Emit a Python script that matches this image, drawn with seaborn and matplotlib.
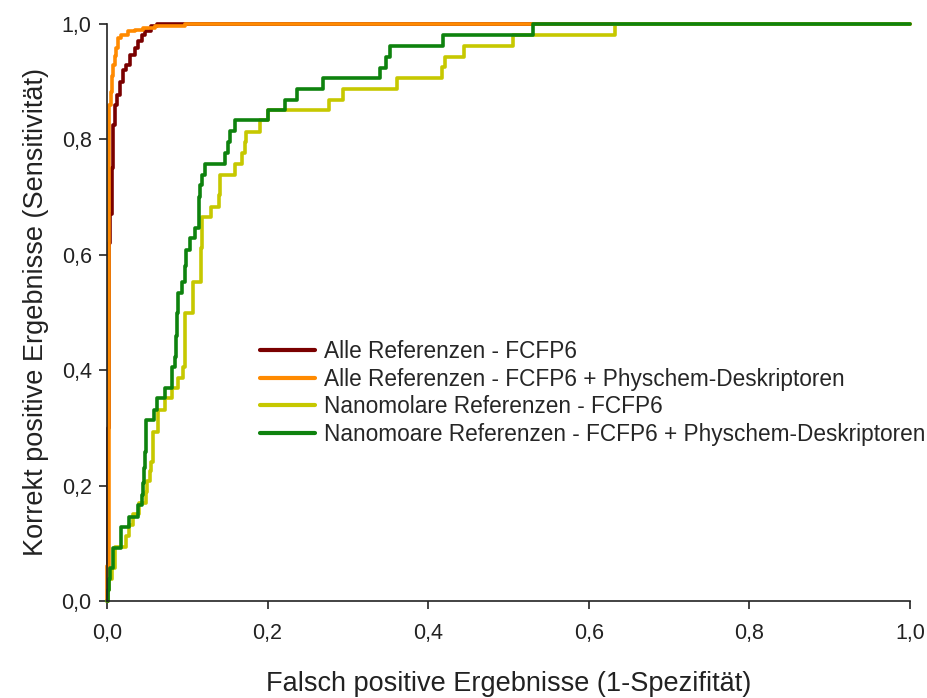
import matplotlib
matplotlib.use("Agg")
import matplotlib.pyplot as plt
import seaborn as sns
import pandas as pd

# ---- data (step vertices: x where a level starts, level) ----
red_x = [0.000, 0.001, 0.002, 0.003, 0.004, 0.006, 0.008, 0.010, 0.012, 0.016, 0.020,
         0.024, 0.029, 0.035, 0.039, 0.043, 0.047, 0.055, 0.062, 1.000]
red_y = [0.000, 0.300, 0.500, 0.620, 0.670, 0.750, 0.825, 0.860, 0.877, 0.900, 0.920,
         0.929, 0.946, 0.958, 0.970, 0.981, 0.988, 0.996, 1.000, 1.000]

orange_x = [0.000, 0.000, 0.002, 0.003, 0.005, 0.006, 0.008, 0.010, 0.011, 0.014, 0.018,
            0.026, 0.035, 0.045, 0.060, 0.097, 1.000]
orange_y = [0.000, 0.060, 0.820, 0.860, 0.883, 0.910, 0.929, 0.945, 0.958, 0.975, 0.981,
            0.988, 0.990, 0.993, 0.997, 1.000, 1.000]

yellow_x = [0.000, 0.001, 0.003, 0.006, 0.010, 0.024, 0.028, 0.033, 0.040, 0.049, 0.050,
            0.053, 0.055, 0.057, 0.064, 0.072, 0.081, 0.089, 0.095, 0.097, 0.107, 0.117,
            0.118, 0.130, 0.140, 0.141, 0.159, 0.168, 0.172, 0.173, 0.191, 0.201, 0.276,
            0.294, 0.361, 0.417, 0.421, 0.444, 0.506, 0.633, 1.000]
yellow_y = [0.000, 0.019, 0.038, 0.057, 0.094, 0.113, 0.132, 0.151, 0.170, 0.189, 0.208,
            0.226, 0.241, 0.293, 0.331, 0.351, 0.369, 0.386, 0.406, 0.499, 0.553, 0.611,
            0.666, 0.683, 0.704, 0.738, 0.758, 0.776, 0.796, 0.813, 0.834, 0.851, 0.868,
            0.887, 0.906, 0.925, 0.943, 0.962, 0.981, 1.000, 1.000]

green_x = [0.000, 0.001, 0.002, 0.004, 0.008, 0.018, 0.027, 0.039, 0.043, 0.045, 0.046,
           0.047, 0.048, 0.049, 0.058, 0.062, 0.072, 0.081, 0.085, 0.086, 0.087, 0.088,
           0.093, 0.097, 0.098, 0.103, 0.110, 0.114, 0.115, 0.116, 0.118, 0.122, 0.147,
           0.151, 0.153, 0.159, 0.201, 0.222, 0.236, 0.269, 0.340, 0.348, 0.352, 0.419,
           0.531, 1.000]
green_y = [0.000, 0.019, 0.038, 0.057, 0.092, 0.129, 0.146, 0.166, 0.184, 0.204, 0.230,
           0.259, 0.290, 0.314, 0.331, 0.351, 0.369, 0.406, 0.423, 0.460, 0.500, 0.533,
           0.553, 0.580, 0.608, 0.629, 0.646, 0.680, 0.700, 0.721, 0.738, 0.758, 0.776,
           0.796, 0.815, 0.834, 0.851, 0.868, 0.887, 0.906, 0.923, 0.943, 0.962, 0.981,
           1.000, 1.000]

labels = ["Alle Referenzen - FCFP6",
          "Alle Referenzen - FCFP6 + Physchem-Deskriptoren",
          "Nanomolare Referenzen - FCFP6",
          "Nanomoare Referenzen - FCFP6 + Physchem-Deskriptoren"]
colors = ["#7a0000", "#ff8a00", "#c6c800", "#0e820e"]
series = [(red_x, red_y), (orange_x, orange_y), (yellow_x, yellow_y), (green_x, green_y)]

tick_vals = [0.0, 0.2, 0.4, 0.6, 0.8, 1.0]
tick_labels = ["0,0", "0,2", "0,4", "0,6", "0,8", "1,0"]

# ---- plot ----
sns.set_style("ticks")
plt.rcParams["font.family"] = ["Liberation Sans", "DejaVu Sans"]

fig = plt.figure(figsize=(9.28, 6.98), dpi=100)
ax = fig.add_axes([107 / 928, 97 / 698, 803 / 928, 577 / 698])

for (xs, ys), lab, col in zip(series, labels, colors):
    df = pd.DataFrame({"x": xs, "y": ys})
    sns.lineplot(data=df, x="x", y="y", ax=ax, estimator=None, sort=False,
                 drawstyle="steps-post", color=col, linewidth=2.6, label=lab,
                 clip_on=False)

ax.set_xlim(0, 1)
ax.set_ylim(0, 1)
ax.set_xticks(tick_vals)
ax.set_xticklabels(tick_labels)
ax.set_yticks(tick_vals)
ax.set_yticklabels(tick_labels)
ax.tick_params(axis="both", direction="out", length=6, width=1.2, labelsize=15.5,
               colors="#222222", pad=5)
ax.tick_params(axis="x", pad=10)
for s in ["top", "right"]:
    ax.spines[s].set_visible(False)
for s in ["left", "bottom"]:
    ax.spines[s].set_linewidth(1.2)
    ax.spines[s].set_color("#222222")

ax.set_xlabel("Falsch positive Ergebnisse (1-Spezifität)", fontsize=19.5, labelpad=19,
              color="#222222")
ax.set_ylabel("Korrekt positive Ergebnisse (Sensitivität)", fontsize=19.5, labelpad=9,
              color="#222222")

leg = ax.legend(loc="upper left", bbox_to_anchor=(0.1905, 0.452), frameon=False,
                fontsize=16.3, handlelength=2.45, handletextpad=0.4, labelspacing=0.2,
                borderaxespad=0, borderpad=0)
for line in leg.get_lines():
    line.set_linewidth(3)

fig.savefig("out.png", dpi=100)
